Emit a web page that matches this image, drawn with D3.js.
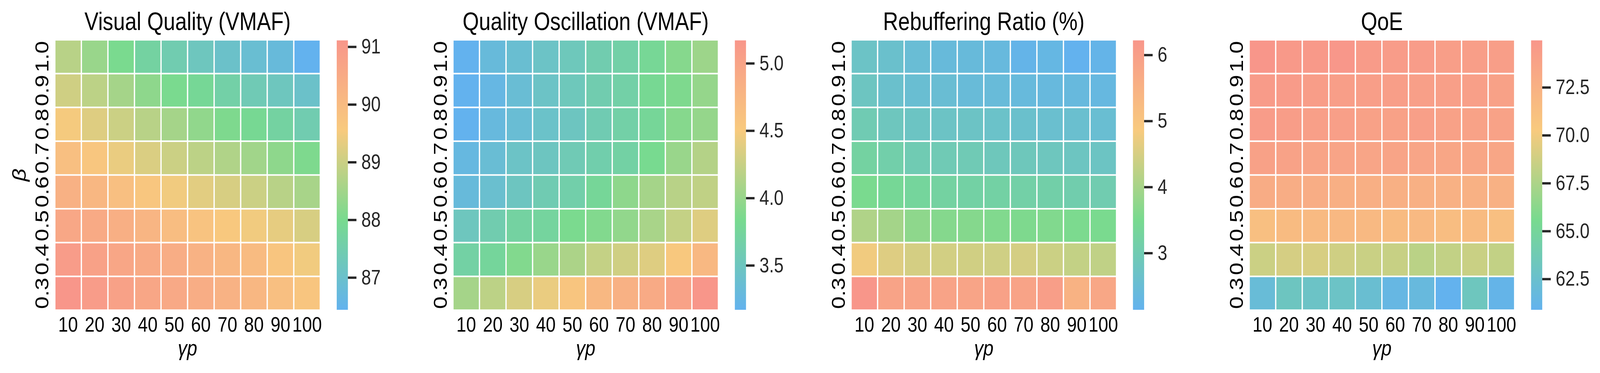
<!DOCTYPE html>
<html>
<head>
<meta charset="utf-8">
<script src="https://cdn.jsdelivr.net/npm/d3@7"></script>
<style>
  html, body { margin: 0; padding: 0; background: #fff; overflow: hidden; }
  svg { display: block; width: 100vw; height: 100vh; }
  text { font-family: "Liberation Sans", Arial, sans-serif; }
</style>
</head>
<body>
<div id="chart"></div>
<script>
// categories
const gammaP = [10, 20, 30, 40, 50, 60, 70, 80, 90, 100];
const betas = ["1.0", "0.9", "0.8", "0.7", "0.6", "0.5", "0.4", "0.3"]; // top -> bottom

const titles = ["Visual Quality (VMAF)", "Quality Oscillation (VMAF)", "Rebuffering Ratio (%)", "QoE"];

// values, one row per beta (top -> bottom), one column per gamma p
const vqValues = [
  [88.77, 88.40, 88.02, 87.70, 87.46, 87.23, 87.04, 86.90, 86.76, 86.44],
  [89.05, 88.82, 88.54, 88.26, 88.02, 87.88, 87.60, 87.37, 87.23, 87.04],
  [89.52, 89.24, 89.00, 88.77, 88.54, 88.30, 88.07, 87.93, 87.70, 87.46],
  [89.89, 89.66, 89.38, 89.19, 89.00, 88.82, 88.68, 88.49, 88.26, 88.07],
  [90.31, 90.13, 89.89, 89.66, 89.47, 89.29, 89.15, 89.00, 88.77, 88.58],
  [90.59, 90.50, 90.36, 90.17, 89.94, 89.75, 89.61, 89.47, 89.33, 89.15],
  [90.92, 90.78, 90.64, 90.50, 90.41, 90.27, 90.13, 89.99, 89.70, 89.47],
  [91.11, 90.92, 90.78, 90.64, 90.55, 90.41, 90.27, 90.13, 89.89, 89.70]
];

const qoValues = [
  [3.17, 3.31, 3.37, 3.45, 3.53, 3.61, 3.67, 3.79, 3.91, 4.03],
  [3.17, 3.25, 3.35, 3.45, 3.53, 3.61, 3.67, 3.81, 3.87, 3.99],
  [3.17, 3.29, 3.35, 3.43, 3.49, 3.59, 3.67, 3.77, 3.91, 3.99],
  [3.27, 3.35, 3.45, 3.49, 3.57, 3.63, 3.69, 3.83, 4.01, 4.15],
  [3.31, 3.39, 3.49, 3.59, 3.65, 3.77, 3.95, 4.07, 4.17, 4.21],
  [3.51, 3.61, 3.71, 3.73, 3.85, 3.89, 3.97, 4.09, 4.23, 4.37],
  [3.69, 3.75, 3.89, 4.01, 4.11, 4.23, 4.29, 4.37, 4.53, 4.73],
  [4.07, 4.19, 4.33, 4.43, 4.57, 4.73, 4.83, 4.91, 5.01, 5.17]
];

const rrValues = [
  [2.71, 2.62, 2.50, 2.42, 2.42, 2.38, 2.22, 2.30, 2.14, 2.22],
  [2.79, 2.62, 2.54, 2.52, 2.46, 2.44, 2.40, 2.38, 2.38, 2.34],
  [2.99, 2.83, 2.75, 2.73, 2.73, 2.67, 2.62, 2.58, 2.58, 2.54],
  [3.24, 3.11, 2.99, 2.95, 2.95, 2.87, 2.87, 2.83, 2.79, 2.75],
  [3.52, 3.40, 3.32, 3.24, 3.20, 3.20, 3.16, 3.14, 3.07, 3.03],
  [4.09, 3.97, 3.73, 3.64, 3.64, 3.60, 3.56, 3.60, 3.54, 3.52],
  [4.79, 4.58, 4.48, 4.46, 4.44, 4.42, 4.48, 4.38, 4.30, 4.26],
  [6.22, 5.89, 5.89, 5.89, 5.85, 5.93, 5.89, 6.01, 5.48, 5.77]
];

const qoeValues = [
  [74.95, 74.67, 74.67, 74.90, 74.46, 74.39, 74.39, 74.25, 74.25, 74.25],
  [74.53, 74.53, 74.32, 74.25, 74.25, 74.25, 74.18, 74.11, 74.11, 73.97],
  [74.39, 74.32, 74.18, 74.11, 73.97, 73.97, 74.11, 73.97, 73.90, 73.90],
  [73.97, 73.90, 73.68, 73.68, 73.61, 73.68, 73.61, 73.54, 73.54, 73.47],
  [72.98, 72.91, 72.84, 72.70, 72.70, 72.63, 72.63, 72.56, 72.56, 72.56],
  [71.29, 71.58, 71.72, 71.86, 71.79, 71.58, 71.79, 71.44, 71.58, 71.29],
  [68.62, 68.97, 69.04, 68.76, 68.55, 68.48, 67.99, 68.27, 68.55, 68.27],
  [62.01, 63.14, 62.86, 62.86, 62.30, 61.45, 61.73, 60.89, 63.28, 61.17]
];

// colorbar tick labels
const vqTicks = [87, 88, 89, 90, 91];
const qoTicks = [3.5, 4.0, 4.5, 5.0];
const rrTicks = [3, 4, 5, 6];
const qoeTicks = [62.5, 65.0, 67.5, 70.0, 72.5];

const cmapColors = ["#63b2ee", "#78da8f", "#f8ca7e", "#f8968a"];

const panels = [
  { title: titles[0], values: vqValues, ticks: vqTicks, fmt: d3.format("d") },
  { title: titles[1], values: qoValues, ticks: qoTicks, fmt: d3.format(".1f") },
  { title: titles[2], values: rrValues, ticks: rrTicks, fmt: d3.format("d") },
  { title: titles[3], values: qoeValues, ticks: qoeTicks, fmt: d3.format(".1f") }
];

// drawing is laid out in the reference's 4875x956 frame and stretched to the window
const W = 4875, H = 956;
const mapTop = 102, mapW = 809, mapH = 693;
const lw = 4; // white cell separators

const svg = d3.select("#chart").append("svg")
  .attr("viewBox", `0 0 ${W} ${H}`)
  .attr("preserveAspectRatio", "none");

svg.append("rect").attr("width", W).attr("height", H).attr("fill", "#fff");

const defs = svg.append("defs");
const grad = defs.append("linearGradient")
  .attr("id", "cmap")
  .attr("x1", 0).attr("y1", 1).attr("x2", 0).attr("y2", 0);
cmapColors.forEach((c, i) => {
  grad.append("stop")
    .attr("offset", i / (cmapColors.length - 1))
    .attr("stop-color", c);
});

panels.forEach((p, pi) => {
  const left = 167 + pi * 1213;

  const x = d3.scaleBand().domain(gammaP).range([left, left + mapW]);
  const y = d3.scaleBand().domain(betas).range([mapTop, mapTop + mapH]);

  const ext = d3.extent(p.values.flat());
  const color = d3.scaleLinear()
    .domain(d3.range(cmapColors.length).map(i => ext[0] + (ext[1] - ext[0]) * i / (cmapColors.length - 1)))
    .range(cmapColors);

  const g = svg.append("g");

  const cells = [];
  p.values.forEach((row, ri) => row.forEach((v, ci) => {
    cells.push({ beta: betas[ri], gp: gammaP[ci], v: v });
  }));

  g.selectAll("rect.cell")
    .data(cells)
    .enter().append("rect")
    .attr("class", "cell")
    .attr("x", d => x(d.gp) + lw / 2)
    .attr("y", d => y(d.beta) + lw / 2)
    .attr("width", x.bandwidth() - lw)
    .attr("height", y.bandwidth() - lw)
    .attr("fill", d => color(d.v));

  // title
  g.append("text")
    .attr("x", left + mapW / 2)
    .attr("y", 77)
    .attr("text-anchor", "middle")
    .attr("font-size", 64)
    .attr("fill", "#000")
    .text(p.title);

  // x tick labels
  g.selectAll("text.xt")
    .data(gammaP)
    .enter().append("text")
    .attr("class", "xt")
    .attr("x", d => x(d) + x.bandwidth() / 2)
    .attr("y", 850)
    .attr("text-anchor", "middle")
    .attr("font-size", 54)
    .attr("fill", "#000")
    .text(d => d);

  // y tick labels, rotated
  g.selectAll("text.yt")
    .data(betas)
    .enter().append("text")
    .attr("class", "yt")
    .attr("transform", d => `translate(${left - 19},${y(d) + y.bandwidth() / 2}) rotate(-90)`)
    .attr("text-anchor", "middle")
    .attr("font-size", 58)
    .attr("textLength", 80)
    .attr("lengthAdjust", "spacingAndGlyphs")
    .attr("fill", "#000")
    .text(d => d);

  // axis labels
  g.append("text")
    .attr("x", left + mapW / 2)
    .attr("y", 911)
    .attr("text-anchor", "middle")
    .attr("font-size", 56)
    .attr("font-style", "italic")
    .attr("fill", "#000")
    .text("γp");

  if (pi === 0) {
    g.append("text")
      .attr("transform", `translate(78,${mapTop + mapH / 2}) rotate(-90)`)
      .attr("text-anchor", "middle")
      .attr("font-size", 58)
      .attr("font-style", "italic")
      .attr("fill", "#000")
      .text("β");
  }

  // colorbar
  const cbX = left + mapW + 50, cbW = 34;
  const cbTop = 103.5, cbBot = 794;
  const cy = d3.scaleLinear().domain(ext).range([cbBot, cbTop]);

  g.append("rect")
    .attr("x", cbX)
    .attr("y", cbTop)
    .attr("width", cbW)
    .attr("height", cbBot - cbTop)
    .attr("fill", "url(#cmap)");

  const axis = d3.axisRight(cy)
    .tickValues(p.ticks)
    .tickFormat(p.fmt)
    .tickSize(26)
    .tickPadding(15);

  const ag = g.append("g")
    .attr("transform", `translate(${cbX + cbW},0)`)
    .call(axis);
  ag.select(".domain").remove();
  ag.selectAll(".tick line")
    .attr("stroke", "#262626")
    .attr("stroke-width", 6);
  ag.selectAll(".tick text")
    .attr("fill", "#262626")
    .attr("font-size", 53)
    .attr("font-family", "Liberation Sans, Arial, sans-serif");
});
</script>
</body>
</html>
